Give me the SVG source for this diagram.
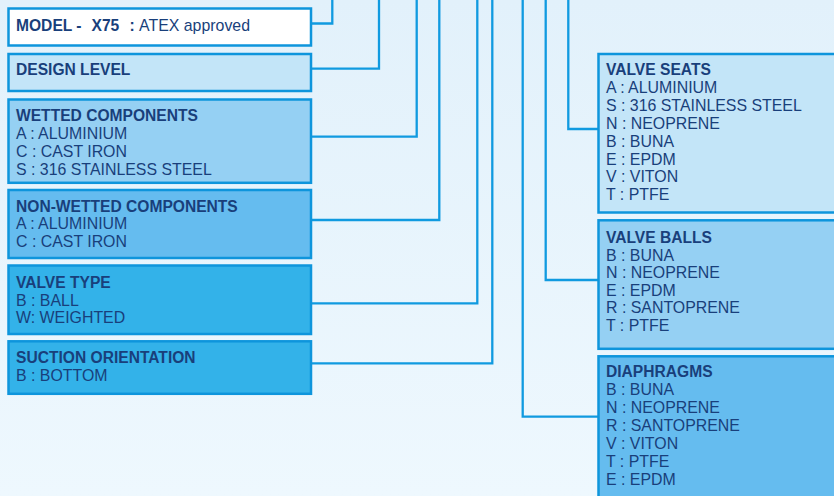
<svg xmlns="http://www.w3.org/2000/svg" width="834" height="496" viewBox="0 0 834 496">
<defs>
<linearGradient id="bg" x1="0" y1="0" x2="0" y2="1">
<stop offset="0" stop-color="#e2f1fb"/>
<stop offset="1" stop-color="#eef8fe"/>
</linearGradient>
</defs>
<style>
.box{stroke:#0e95dc;stroke-width:2.5}
.c{fill:none;stroke:#109ae0;stroke-width:2.3}
text{font-family:"Liberation Sans",Arial,sans-serif;font-size:15.9px;fill:#193f7b}
.t{font-weight:bold;font-size:15.6px}
.l1{fill:#c3e5f8}.l2{fill:#95d0f3}.l3{fill:#65bcef}.l4{fill:#33b2e9}
</style>
<rect width="834" height="496" fill="url(#bg)"/>
<g id="connectors">
<path class="c" d="M311 23.5H332.3V0"/>
<path class="c" d="M311 68.7H379V0"/>
<path class="c" d="M311 136.7H416.7V0"/>
<path class="c" d="M311 220H439.3V0"/>
<path class="c" d="M311 303.3H477.3V0"/>
<path class="c" d="M311 363.3H492.3V0"/>
<path class="c" d="M568.3 0V129H599"/>
<path class="c" d="M545.7 0V280H599"/>
<path class="c" d="M522.7 0V416.7H599"/>
</g>
<g id="model">
<rect class="box" x="8.5" y="8.5" width="302.5" height="37" fill="#ffffff"/>
<text y="30.7"><tspan class="t" x="16">MODEL -</tspan><tspan class="t" x="91.5">X75</tspan><tspan class="t" x="129.5">:</tspan><tspan x="139">ATEX approved</tspan></text>
</g>
<g id="design-level">
<rect class="box l1" x="8.5" y="54" width="302.5" height="37"/>
<text class="t" x="16" y="75.3">DESIGN LEVEL</text>
</g>
<g id="wetted-components">
<rect class="box l2" x="8.5" y="99.5" width="302.5" height="83.3"/>
<text class="t" x="16" y="120.7">WETTED COMPONENTS</text>
<text x="16" y="139">A : ALUMINIUM</text>
<text x="16" y="157">C : CAST IRON</text>
<text x="16" y="175">S : 316 STAINLESS STEEL</text>
</g>
<g id="non-wetted-components">
<rect class="box l3" x="8.5" y="190" width="302.5" height="68"/>
<text class="t" x="16" y="211.7">NON-WETTED COMPONENTS</text>
<text x="16" y="229.3">A : ALUMINIUM</text>
<text x="16" y="247.3">C : CAST IRON</text>
</g>
<g id="valve-type">
<rect class="box l4" x="8.5" y="265.5" width="302.5" height="68.5"/>
<text class="t" x="16" y="287.7">VALVE TYPE</text>
<text x="16" y="305.7">B : BALL</text>
<text x="16" y="323">W: WEIGHTED</text>
</g>
<g id="suction-orientation">
<rect class="box l4" x="8.5" y="341.3" width="302.5" height="52.5"/>
<text class="t" x="16" y="362.7">SUCTION ORIENTATION</text>
<text x="16" y="380.7">B : BOTTOM</text>
</g>
<g id="valve-seats">
<rect class="box l1" x="598.5" y="54" width="240" height="158.5"/>
<text class="t" x="606" y="75.3">VALVE SEATS</text>
<text x="606" y="93.3">A : ALUMINIUM</text>
<text x="606" y="111.4">S : 316 STAINLESS STEEL</text>
<text x="606" y="129.3">N : NEOPRENE</text>
<text x="606" y="147.2">B : BUNA</text>
<text x="606" y="164.6">E : EPDM</text>
<text x="606" y="182.4">V : VITON</text>
<text x="606" y="200.2">T : PTFE</text>
</g>
<g id="valve-balls">
<rect class="box l2" x="598.5" y="220.3" width="240" height="128.5"/>
<text class="t" x="606" y="242.7">VALVE BALLS</text>
<text x="606" y="260.7">B : BUNA</text>
<text x="606" y="278.3">N : NEOPRENE</text>
<text x="606" y="295.6">E : EPDM</text>
<text x="606" y="313.1">R : SANTOPRENE</text>
<text x="606" y="330.7">T : PTFE</text>
</g>
<g id="diaphragms">
<rect class="box l3" x="598.5" y="356.3" width="240" height="150"/>
<text class="t" x="606" y="377.3">DIAPHRAGMS</text>
<text x="606" y="395.3">B : BUNA</text>
<text x="606" y="413.3">N : NEOPRENE</text>
<text x="606" y="431.1">R : SANTOPRENE</text>
<text x="606" y="449.2">V : VITON</text>
<text x="606" y="467.1">T : PTFE</text>
<text x="606" y="485.2">E : EPDM</text>
</g>
</svg>
